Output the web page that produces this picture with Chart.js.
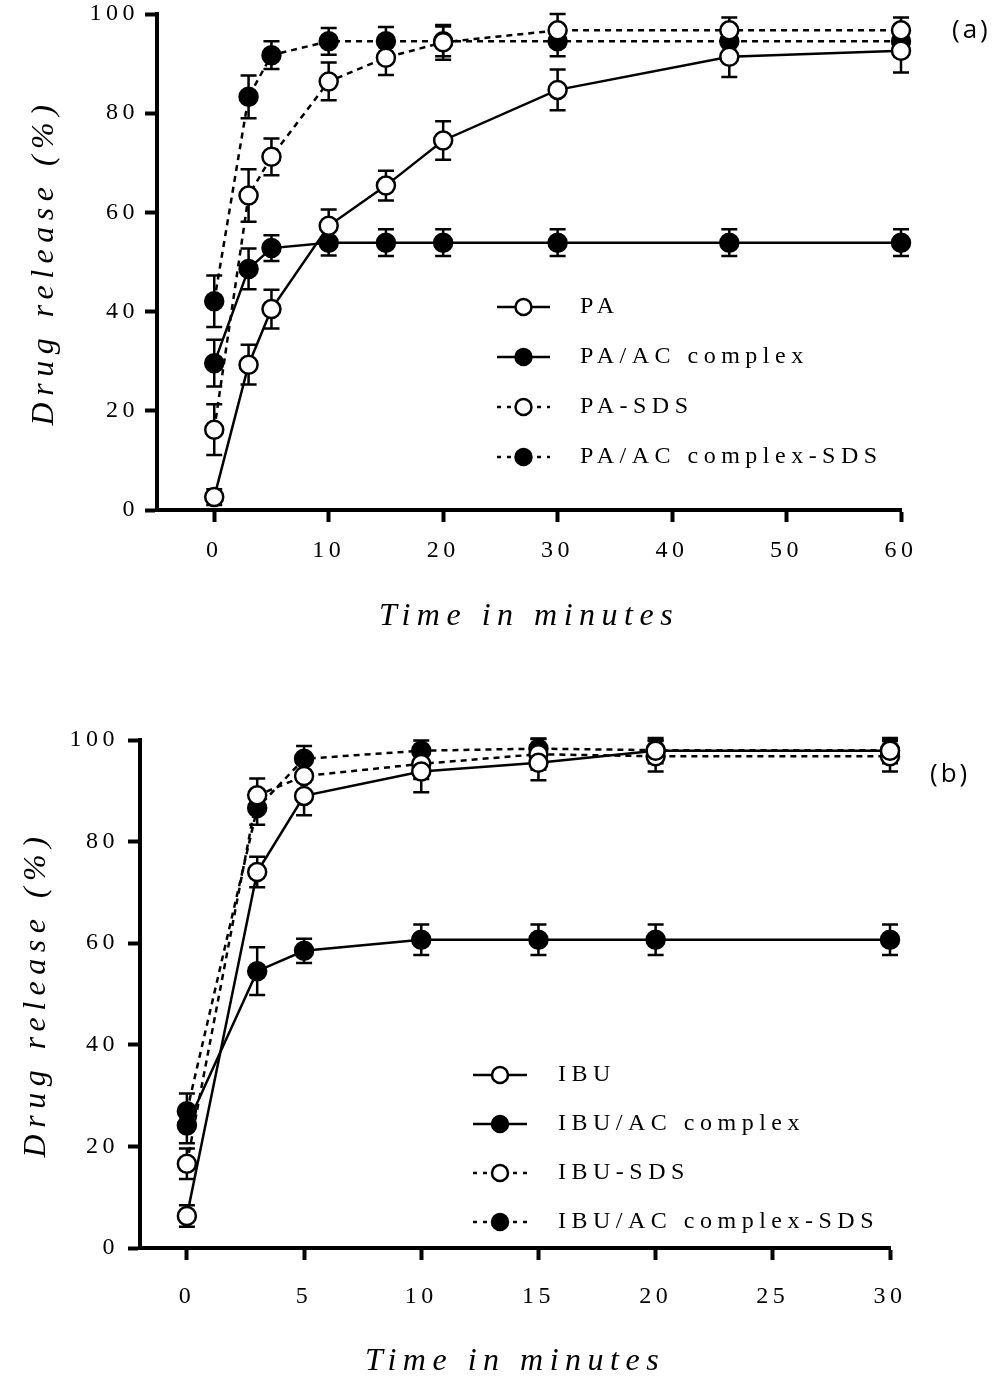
<!DOCTYPE html>
<html lang="en">
<head>
<meta charset="UTF-8">
<title>Drug release</title>
<style>
  body { margin: 0; background: #fff; width: 1005px; height: 1376px; overflow: hidden; position: relative; }
  .panel { position: absolute; left: 0; width: 1005px; }
  #panelA { top: 0; height: 650px; }
  #panelB { top: 690px; height: 700px; }
  .tag { position: absolute; font-family: "Open Sans", sans-serif; font-size: 26px; letter-spacing: 3px; color: #000; }
</style>
<script src="https://cdn.jsdelivr.net/npm/chart.js"></script>
</head>
<body>
<div class="panel" id="panelA"><canvas id="chartA" width="1005" height="650"></canvas></div>
<div class="panel" id="panelB"><canvas id="chartB" width="1005" height="700"></canvas></div>
<div class="tag" style="left:952px; top:10px;">(a)</div>
<div class="tag" style="left:930px; top:754px;">(b)</div>

<script>
// panel (a): paracetamol
const timeA = [0, 3, 5, 10, 15, 20, 30, 45, 60];
const paMean = [2.6, 29.3, 40.5, 57.3, 65.4, 74.5, 84.7, 91.4, 92.6];
const paErr = [1.6, 4.0, 3.9, 3.3, 3.0, 3.9, 4.1, 4.1, 4.4];
const paAcMean = [29.6, 48.6, 52.8, 53.9, 53.9, 53.9, 53.9, 53.9, 53.9];
const paAcErr = [4.7, 4.1, 2.6, 2.6, 2.7, 2.7, 2.7, 2.7, 2.7];
const paSdsMean = [16.2, 63.4, 71.2, 86.4, 91.2, 94.3, 96.7, 96.7, 96.7];
const paSdsErr = [5.1, 5.3, 3.7, 3.8, 3.5, 3.5, 3.3, 2.6, 2.6];
const paAcSdsMean = [42.1, 83.3, 91.7, 94.5, 94.5, 94.5, 94.5, 94.5, 94.5];
const paAcSdsErr = [5.2, 4.3, 2.8, 2.7, 2.9, 3.0, 3.0, 3.0, 3.0];
const xTicksA = [0, 10, 20, 30, 40, 50, 60];

// panel (b): ibuprofen
const timeB = [0, 3, 5, 10, 15, 20, 30];
const ibuMean = [6.3, 74.0, 89.0, 93.8, 95.5, 97.9, 97.9];
const ibuErr = [2.1, 3.0, 3.8, 4.1, 3.4, 2.5, 2.5];
const ibuAcMean = [24.1, 54.5, 58.5, 60.7, 60.7, 60.7, 60.7];
const ibuAcErr = [3.5, 4.7, 2.4, 3.0, 3.0, 3.0, 3.0];
const ibuSdsMean = [16.6, 89.1, 92.9, 95.3, 97.2, 96.8, 96.8];
const ibuSdsErr = [3.0, 3.3, 3.0, 3.0, 3.0, 3.0, 3.0];
const ibuAcSdsMean = [26.9, 86.6, 96.3, 97.9, 98.3, 98.0, 98.0];
const ibuAcSdsErr = [3.5, 3.3, 2.5, 2.0, 2.0, 2.0, 2.0];
const xTicksB = [0, 5, 10, 15, 20, 25, 30];

const yTicks = [0, 20, 40, 60, 80, 100];

function series(label, xs, ys, errs, filled, dashed) {
    return {
        label: label,
        data: xs.map((x, i) => ({ x: x, y: ys[i] })),
        errors: errs,
        borderColor: '#000',
        borderWidth: 2.5,
        borderDash: dashed ? [6, 5] : [],
        pointRadius: 9,
        pointBorderWidth: 2.5,
        pointBorderColor: '#000',
        pointBackgroundColor: filled ? '#000' : '#fff',
        backgroundColor: filled ? '#000' : '#fff',
        fill: false,
        tension: 0,
        clip: false
    };
}

// error bars go under the markers
const errorBars = {
    id: 'errorBars',
    beforeDatasetsDraw(chart) {
        const ctx = chart.ctx, xs = chart.scales.x, ys = chart.scales.y;
        ctx.save();
        ctx.strokeStyle = '#000';
        ctx.lineWidth = 2.5;
        chart.data.datasets.forEach(ds => {
            ds.data.forEach((p, i) => {
                const e = ds.errors[i];
                const px = xs.getPixelForValue(p.x);
                const top = ys.getPixelForValue(p.y + e);
                const bot = ys.getPixelForValue(p.y - e);
                ctx.beginPath();
                ctx.moveTo(px, top); ctx.lineTo(px, bot);
                ctx.moveTo(px - 8, top); ctx.lineTo(px + 8, top);
                ctx.moveTo(px - 8, bot); ctx.lineTo(px + 8, bot);
                ctx.stroke();
            });
        });
        ctx.restore();
    }
};

// spaced-out text, axis titles and the in-plot legend
const decor = {
    id: 'decor',
    beforeDraw(chart) { chart.ctx.letterSpacing = '4.5px'; },
    afterDraw(chart, args, o) {
        const ctx = chart.ctx, a = chart.chartArea;
        ctx.save();
        ctx.fillStyle = '#000';
        ctx.font = 'italic 32px "Liberation Serif"';
        ctx.letterSpacing = '6.5px';
        ctx.textAlign = 'center';
        ctx.textBaseline = 'middle';
        ctx.fillText(o.xTitle, (a.left + a.right) / 2, o.xTitleY);
        ctx.translate(o.yTitleX, (a.top + a.bottom) / 2);
        ctx.rotate(-Math.PI / 2);
        ctx.fillText(o.yTitle, 0, 0);
        ctx.restore();

        chart.data.datasets.forEach((ds, i) => {
            const y = o.legY + i * o.legGap;
            ctx.save();
            ctx.strokeStyle = '#000';
            ctx.lineWidth = 2.5;
            ctx.setLineDash(ds.borderDash.length ? [4, 6] : []);
            ctx.beginPath();
            ctx.moveTo(o.legX, y); ctx.lineTo(o.legX + o.legLen, y);
            ctx.stroke();
            ctx.setLineDash([]);
            ctx.beginPath();
            ctx.arc(o.legX + o.legLen / 2, y, 8, 0, Math.PI * 2);
            ctx.fillStyle = ds.pointBackgroundColor;
            ctx.fill();
            ctx.stroke();
            ctx.fillStyle = '#000';
            ctx.font = '24px "Liberation Serif"';
            ctx.letterSpacing = '5.5px';
            ctx.textAlign = 'left';
            ctx.textBaseline = 'middle';
            ctx.fillText(ds.label, o.legTextX, y);
            ctx.restore();
        });
        ctx.letterSpacing = '0px';
    }
};

function makeOptions(c) {
    const tickFont = { family: 'Liberation Serif', size: 24 };
    return {
        responsive: false,
        animation: false,
        layout: { padding: c.padding },
        scales: {
            x: {
                type: 'linear', min: c.xMin, max: c.xMax,
                afterFit: s => { s.height = c.xHeight; s.paddingLeft = 0; s.paddingRight = 0; },
                afterBuildTicks: s => { s.ticks = c.xTicks.map(v => ({ value: v })); },
                grid: { drawOnChartArea: false, tickLength: 12, tickWidth: 4, tickColor: '#000' },
                border: { width: 4, color: '#000' },
                ticks: { color: '#000', font: tickFont, padding: c.xPad, autoSkip: false, maxRotation: 0 }
            },
            y: {
                type: 'linear', min: 0, max: 100,
                afterFit: s => { s.width = c.yWidth; s.paddingTop = 0; s.paddingBottom = 0; },
                afterBuildTicks: s => { s.ticks = yTicks.map(v => ({ value: v })); },
                grid: { drawOnChartArea: false, tickLength: 12, tickWidth: 4, tickColor: '#000' },
                border: { width: 4, color: '#000' },
                ticks: { color: '#000', font: tickFont, padding: c.yPad, autoSkip: false }
            }
        },
        plugins: {
            legend: { display: false },
            tooltip: { enabled: false },
            decor: c.decor
        }
    };
}

new Chart(document.getElementById('chartA'), {
    type: 'line',
    data: {
        datasets: [
            series('PA', timeA, paMean, paErr, false, false),
            series('PA/AC complex', timeA, paAcMean, paAcErr, true, false),
            series('PA-SDS', timeA, paSdsMean, paSdsErr, false, true),
            series('PA/AC complex-SDS', timeA, paAcSdsMean, paAcSdsErr, true, true)
        ]
    },
    options: makeOptions({
        padding: { left: 0, right: 104, top: 14, bottom: 0 },
        xMin: -5, xMax: 60, xTicks: xTicksA, xHeight: 140, xPad: 14,
        yWidth: 157, yPad: 6,
        decor: {
            xTitle: 'Time in minutes', xTitleY: 617,
            yTitle: 'Drug release (%)', yTitleX: 45,
            legX: 497, legLen: 53, legY: 307, legGap: 50, legTextX: 580
        }
    }),
    plugins: [errorBars, decor]
});

new Chart(document.getElementById('chartB'), {
    type: 'line',
    data: {
        datasets: [
            series('IBU', timeB, ibuMean, ibuErr, false, false),
            series('IBU/AC complex', timeB, ibuAcMean, ibuAcErr, true, false),
            series('IBU-SDS', timeB, ibuSdsMean, ibuSdsErr, false, true),
            series('IBU/AC complex-SDS', timeB, ibuAcSdsMean, ibuAcSdsErr, true, true)
        ]
    },
    options: makeOptions({
        padding: { left: 0, right: 115, top: 50, bottom: 0 },
        xMin: -2, xMax: 30, xTicks: xTicksB, xHeight: 142, xPad: 22,
        yWidth: 140, yPad: 9,
        decor: {
            xTitle: 'Time in minutes', xTitleY: 672,
            yTitle: 'Drug release (%)', yTitleX: 37,
            legX: 473, legLen: 54, legY: 385, legGap: 49, legTextX: 558
        }
    }),
    plugins: [errorBars, decor]
});
</script>
</body>
</html>
